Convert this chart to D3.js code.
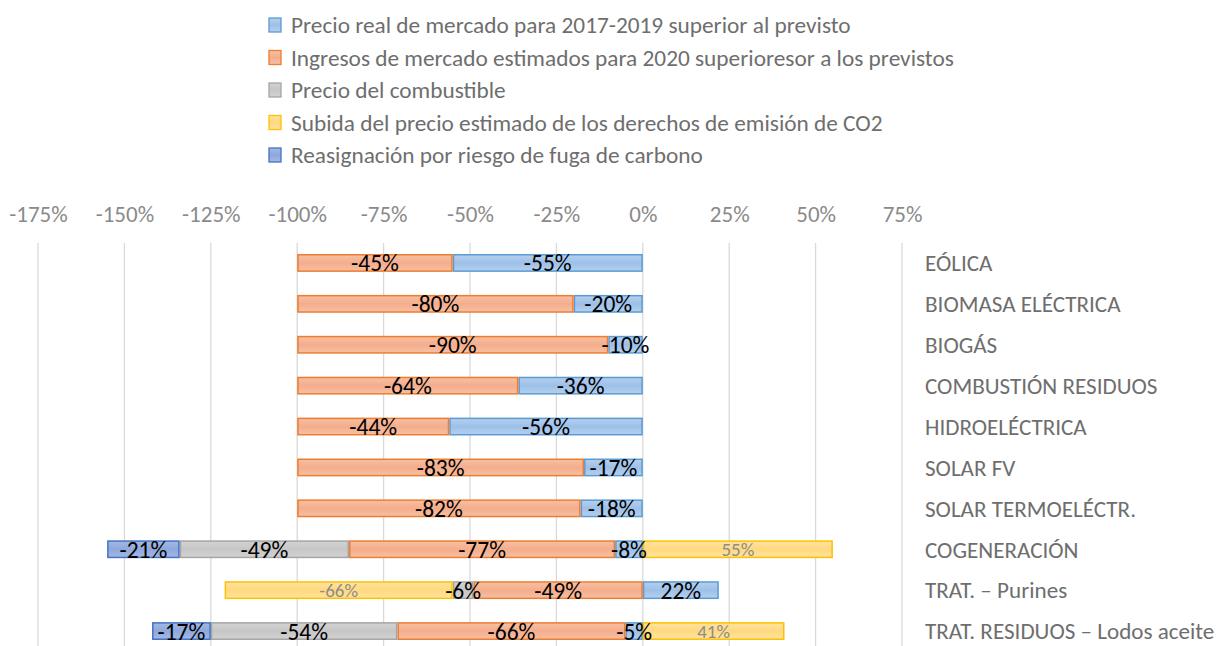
<!DOCTYPE html>
<html>
<head>
<meta charset="utf-8">
<script src="https://cdn.jsdelivr.net/npm/d3@7"></script>
<style>
  html, body { margin: 0; padding: 0; background: #fff; }
  svg { display: block; }
  text { font-family: Carlito, Calibri, "Liberation Sans Narrow", "Open Sans", sans-serif; }
</style>
</head>
<body>
<svg id="chart" width="1217" height="646"></svg>
<script>
const categories = ["EÓLICA", "BIOMASA ELÉCTRICA", "BIOGÁS", "COMBUSTIÓN RESIDUOS", "HIDROELÉCTRICA",
  "SOLAR FV", "SOLAR TERMOELÉCTR.", "COGENERACIÓN", "TRAT. – Purines", "TRAT. RESIDUOS – Lodos aceite"];

const seriesNames = [
  "Precio real de mercado para 2017-2019 superior al previsto",
  "Ingresos de mercado estimados para 2020 superioresor a los previstos",
  "Precio del combustible",
  "Subida del precio estimado de los derechos de emisión de CO2",
  "Reasignación por riesgo de fuga de carbono"
];

const precioReal    = [-0.55, -0.20, -0.10, -0.36, -0.56, -0.17, -0.18, -0.08, 0.22, -0.05];
const ingresos2020  = [-0.45, -0.80, -0.90, -0.64, -0.44, -0.83, -0.82, -0.77, -0.49, -0.66];
const combustible   = [0, 0, 0, 0, 0, 0, 0, -0.49, -0.06, -0.54];
const co2           = [0, 0, 0, 0, 0, 0, 0, 0.55, -0.66, 0.41];
const reasignacion  = [0, 0, 0, 0, 0, 0, 0, -0.21, 0, -0.17];

const tickValues = [-1.75, -1.5, -1.25, -1.0, -0.75, -0.5, -0.25, 0, 0.25, 0.5, 0.75];

const seriesValues = [precioReal, ingresos2020, combustible, co2, reasignacion];
const styles = [
  { fillTop: "#b5d0ee", fillMid: "#9dc0e8", stroke: "#5b9bd5", label: "#000", size: 23.5 },
  { fillTop: "#f7c0a3", fillMid: "#f4ad8c", stroke: "#ed7d31", label: "#000", size: 23.5 },
  { fillTop: "#d3d3d3", fillMid: "#c6c6c6", stroke: "#a5a5a5", label: "#000", size: 23.5 },
  { fillTop: "#ffe3a0", fillMid: "#ffd97f", stroke: "#ffc000", label: "#8c8c8c", size: 19 },
  { fillTop: "#a3b9e4", fillMid: "#8ea8dc", stroke: "#4472c4", label: "#000", size: 23.5 }
];

const table = categories.map((c, i) => {
  const row = { cat: c };
  seriesValues.forEach((arr, k) => row["s" + k] = arr[i]);
  return row;
});
const keys = seriesValues.map((_, k) => "s" + k);

const svg = d3.select("#chart");

// gradients
const defs = svg.append("defs");
styles.forEach((s, k) => {
  const g = defs.append("linearGradient").attr("id", "g" + k)
    .attr("x1", 0).attr("y1", 0).attr("x2", 0).attr("y2", 1);
  g.append("stop").attr("offset", "0%").attr("stop-color", s.fillTop);
  g.append("stop").attr("offset", "50%").attr("stop-color", s.fillMid);
  g.append("stop").attr("offset", "100%").attr("stop-color", s.fillTop);
});

const x = d3.scaleLinear().domain([-1.75, 0.75]).range([38, 902]);
const y = d3.scaleBand().domain(categories).range([242.5, 651.5]).paddingInner(0.6).paddingOuter(0.3);

// gridlines
svg.append("g").selectAll("line").data(tickValues).join("line")
  .attr("x1", d => x(d)).attr("x2", d => x(d))
  .attr("y1", 243).attr("y2", 646)
  .attr("stroke", "#d9d9d9").attr("stroke-width", 1.3);

// top axis labels
const axis = d3.axisTop(x).tickValues(tickValues).tickSize(0).tickPadding(0)
  .tickFormat(d => Math.round(d * 100) + "%");
const ax = svg.append("g").attr("transform", "translate(0,222)").call(axis);
ax.select(".domain").remove();
ax.selectAll("text").attr("fill", "#8a8a8a").style("font-size", "23px")
  .style("font-family", 'Carlito, Calibri, "Liberation Sans Narrow", "Open Sans", sans-serif');

// stacked bars
const stack = d3.stack().keys(keys).offset(d3.stackOffsetDiverging);
const stacked = stack(table);

stacked.forEach((layer, k) => {
  const st = styles[k];
  const g = svg.append("g");
  const segs = layer.map((d, i) => ({ x0: d[0], x1: d[1], cat: categories[i], v: seriesValues[k][i] }))
    .filter(d => d.v !== 0);
  g.selectAll("rect").data(segs).join("rect")
    .attr("x", d => x(Math.min(d.x0, d.x1)) + 0.75)
    .attr("y", d => y(d.cat))
    .attr("width", d => Math.abs(x(d.x1) - x(d.x0)) - 1.5)
    .attr("height", y.bandwidth())
    .attr("fill", "url(#g" + k + ")")
    .attr("stroke", st.stroke).attr("stroke-width", 1.5);
});
stacked.forEach((layer, k) => {
  const st = styles[k];
  const segs = layer.map((d, i) => ({ x0: d[0], x1: d[1], cat: categories[i], v: seriesValues[k][i] }))
    .filter(d => d.v !== 0);
  svg.append("g").selectAll("text").data(segs).join("text")
    .attr("x", d => x((d.x0 + d.x1) / 2))
    .attr("y", d => y(d.cat) + y.bandwidth() / 2)
    .attr("dy", "0.36em")
    .attr("text-anchor", "middle")
    .attr("fill", st.label)
    .style("font-size", st.size + "px")
    .text(d => Math.round(d.v * 100) + "%");
});

// category labels
svg.append("g").selectAll("text").data(categories).join("text")
  .attr("x", 925)
  .attr("y", d => y(d) + y.bandwidth() / 2)
  .attr("dy", "0.36em")
  .attr("fill", "#6e6e6e")
  .style("font-size", "23.1px")
  .text(d => d);

// legend
const legend = svg.append("g");
const legendY = d3.scalePoint().domain(seriesNames).range([25, 155]);
seriesNames.forEach((name, k) => {
  const st = styles[k];
  legend.append("rect")
    .attr("x", 269).attr("y", legendY(name) - 7)
    .attr("width", 12).attr("height", 14)
    .attr("fill", "url(#g" + k + ")").attr("stroke", st.stroke).attr("stroke-width", 1.3);
  legend.append("text")
    .attr("x", 291).attr("y", legendY(name)).attr("dy", "0.36em")
    .attr("fill", "#6e6e6e").style("font-size", "23.3px")
    .text(name);
});
</script>
</body>
</html>
